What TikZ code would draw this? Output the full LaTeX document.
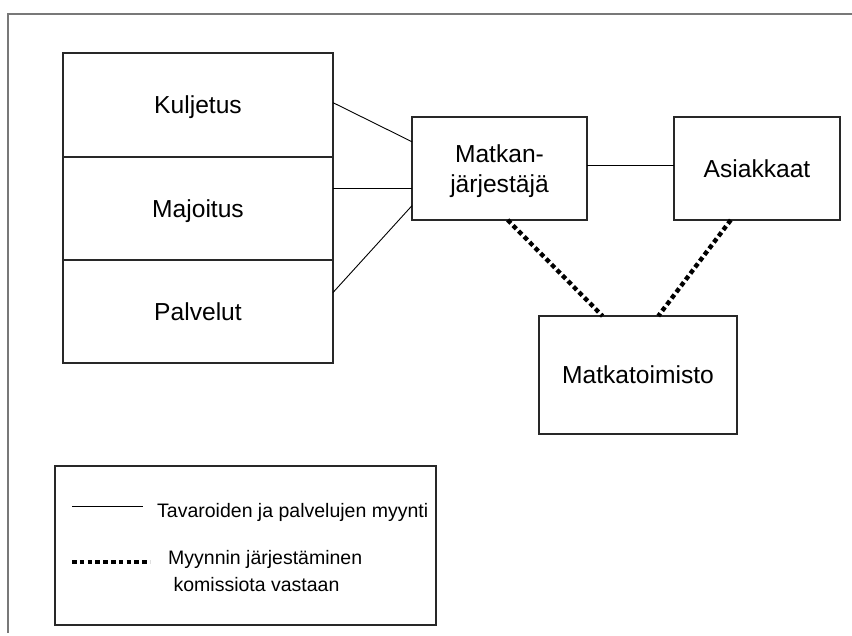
\documentclass[tikz,border=0pt]{standalone}
\usepackage{fontspec}
\setmainfont{Liberation Sans}
\definecolor{framegray}{RGB}{120,120,120}
\definecolor{boxline}{RGB}{40,40,40}
\tikzset{
  unit/.style={draw=boxline, line width=1.2pt, inner sep=0pt, outer sep=0pt,
    align=center, text depth=0pt, font=\fontsize{24.6}{30}\selectfont},
  sale/.style={draw=black, line width=0.9pt},
  commission/.style={draw=black, line width=4.4pt, dash pattern=on 4.6pt off 3.2pt},
  legtext/.style={anchor=west, inner sep=0pt, align=left, font=\fontsize{19.5}{27}\selectfont}
}
\begin{document}
\begin{tikzpicture}[x=1pt,y=-1pt]

\useasboundingbox (0,0) rectangle (852,635);
% outer frame, only top and left edges show
\draw[framegray, line width=1.8pt] (8,633) -- (8,14) -- (852,14);

% suppliers
\node[unit, minimum width=270pt, minimum height=104pt] (kul) at (198,105) {Kuljetus};
\node[unit, minimum width=270pt, minimum height=103pt] (maj) at (198,208.5) {Majoitus};
\node[unit, minimum width=270pt, minimum height=103pt] (pal) at (198,311.5) {Palvelut};

\node[unit, minimum width=175pt, minimum height=103pt] (mat) at (499.5,168.5) {Matkan-\\järjestäjä};
\node[unit, minimum width=166pt, minimum height=103pt] (asi) at (757,168.5) {Asiakkaat};
\node[unit, minimum width=198pt, minimum height=118pt] (mto) at (638,375) {Matkatoimisto};

\draw[sale] (kul.1) -- (mat.163);
\draw[sale] (mat.193 -| maj.east) -- (mat.193);
\draw[sale] (pal.8) -- (mat.203);
\draw[sale] (mat.2) -- (mat.2 -| asi.west);

\draw[commission] (mat.-81) -- (mto.121);
\draw[commission] (asi.-117) -- (mto.71);

% legend
\node[draw=boxline, line width=1.2pt, minimum width=381pt, minimum height=159pt,
  inner sep=0pt, outer sep=0pt] (leg) at (245.5,545.5) {};
\coordinate (sa) at (72,506);
\coordinate (sb) at (143,506);
\coordinate (ca) at (72,562);
\coordinate (cb) at (150,562);
\draw[sale] (sa) -- (sb);
\draw[commission] (ca) -- (cb);
\node[legtext] (legsale) at (157,512) {Tavaroiden ja palvelujen myynti};
\node[legtext] (legcom) at (168,571) {Myynnin järjestäminen\\\ komissiota vastaan};

\end{tikzpicture}
\end{document}
